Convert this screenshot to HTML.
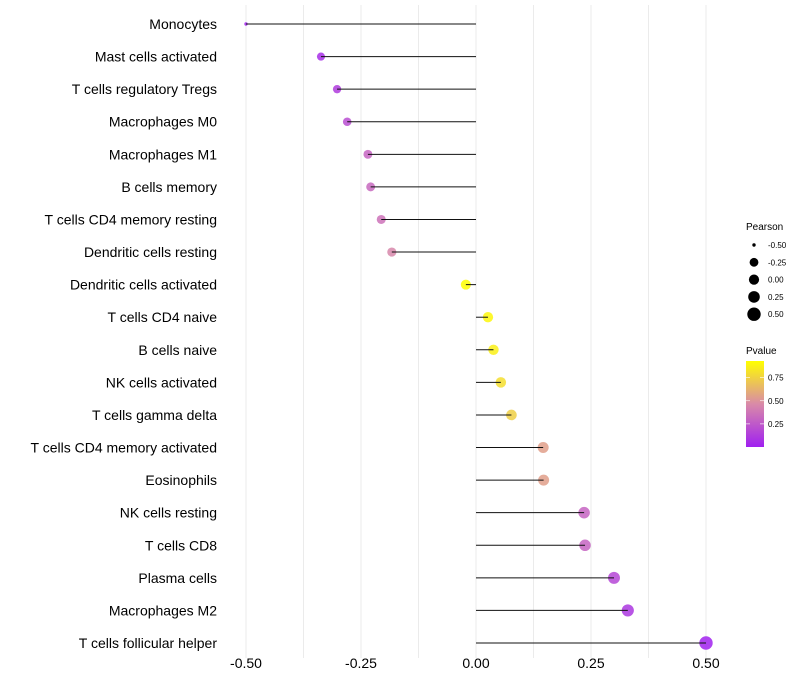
<!DOCTYPE html>
<html><head><meta charset="utf-8"><style>
body{margin:0;background:#fff;font-family:"Liberation Sans",sans-serif}
svg{display:block}
</style></head><body>
<svg id="c" width="800" height="700" xmlns="http://www.w3.org/2000/svg">
<defs><linearGradient id="pg" x1="0" y1="1" x2="0" y2="0">
<stop offset="0" stop-color="#a020f0"/><stop offset="0.5" stop-color="#d98aa8"/><stop offset="1" stop-color="#ffff00"/></linearGradient></defs>
<g id="grid"></g><g id="marks"></g><g id="labels"></g><g id="legend"></g>
</svg>
<script>
const cells = ["Monocytes","Mast cells activated","T cells regulatory  Tregs ","Macrophages M0","Macrophages M1","B cells memory","T cells CD4 memory resting","Dendritic cells resting","Dendritic cells activated","T cells CD4 naive","B cells naive","NK cells activated","T cells gamma delta","T cells CD4 memory activated","Eosinophils","NK cells resting","T cells CD8","Plasma cells","Macrophages M2","T cells follicular helper"];
const pearson = [-0.50,-0.337,-0.302,-0.28,-0.235,-0.229,-0.206,-0.183,-0.022,0.026,0.038,0.054,0.077,0.146,0.147,0.235,0.237,0.30,0.33,0.50];
const pvalue = [0.01,0.06,0.12,0.2,0.3,0.32,0.36,0.45,0.93,0.9,0.87,0.8,0.74,0.55,0.55,0.3,0.3,0.17,0.1,0.01];
const xTicks = [-0.5,-0.25,0,0.25,0.5];
const xTickLabels = ["-0.50","-0.25","0.00","0.25","0.50"];
const sizeBreaks = [-0.5,-0.25,0,0.25,0.5];
const sizeLabels = ["-0.50","-0.25","0.00","0.25","0.50"];
const colorBreaks = [0.25,0.5,0.75];
const colorLabels = ["0.25","0.50","0.75"];

const NS="http://www.w3.org/2000/svg";
const X = v => 476 + v*460;
const Y = i => 24 + i*(643-24)/19;
const rDom=[-0.5,-0.4,-0.25,0,0.25,0.5], rRng=[1.7,3.8,4.4,5.1,5.8,6.7];
function R(v){
  for(let k=0;k<rDom.length-1;k++){ if(v<=rDom[k+1]){const t=(v-rDom[k])/(rDom[k+1]-rDom[k]);return rRng[k]+(rRng[k+1]-rRng[k])*Math.max(0,t);} }
  return rRng[rRng.length-1];
}
function lerp(a,b,t){return a+(b-a)*t}
function col(p){
  const t=Math.max(0,Math.min(1,p/0.93));
  const s=[[160,32,240],[217,138,168],[255,255,0]];
  let a,b,u; if(t<0.5){a=s[0];b=s[1];u=t/0.5}else{a=s[1];b=s[2];u=(t-0.5)/0.5}
  return `rgb(${Math.round(lerp(a[0],b[0],u))},${Math.round(lerp(a[1],b[1],u))},${Math.round(lerp(a[2],b[2],u))})`;
}
function mk(tag,attrs,parent,text){const e=document.createElementNS(NS,tag);for(const k in attrs)e.setAttribute(k,attrs[k]);if(text!=null)e.textContent=text;document.getElementById(parent).appendChild(e);return e}

for(let v=-0.5;v<=0.5001;v+=0.125){
  const g=mk('line',{x1:X(v),x2:X(v),y1:5,y2:658,stroke:'#ebebeb','stroke-width':1},'grid');
  
  
}
xTicks.forEach((v,i)=>{
  const t=mk('text',{x:X(v),y:668,'text-anchor':'middle','font-size':14,fill:'#000'},'labels',xTickLabels[i]);
  
  
});
cells.forEach((c,i)=>{
  const t=mk('text',{x:217,y:Y(i)+5,'text-anchor':'end','font-size':14,fill:'#000'},'labels',c);
  
  
  const p=mk('circle',{cx:X(pearson[i]),cy:Y(i),r:R(pearson[i]),fill:col(pvalue[i]),'fill-opacity':0.85},'marks');
  
  
  const l=mk('line',{x1:X(0),x2:X(pearson[i]),y1:Y(i),y2:Y(i),stroke:'#111','stroke-width':1},'marks');
  
  
});
const lt=mk('text',{x:746,y:230,'font-size':10},'legend','Pearson');


sizeBreaks.forEach((v,i)=>{
  const y=245+i*17.3;
  const c=mk('circle',{cx:754,cy:y,r:R(v),fill:'#000'},'legend');
  
  
  const t=mk('text',{x:768,y:y+3,'font-size':8},'legend',sizeLabels[i]);
  
  
});
const pt=mk('text',{x:746,y:354,'font-size':10},'legend','Pvalue');


const bar=mk('rect',{x:746,y:361,width:18,height:86,fill:'url(#pg)'},'legend');


const CY=p=>447-p/0.93*86;
colorBreaks.forEach((v,i)=>{
  const t=mk('text',{x:768,y:CY(v)+3,'font-size':8},'legend',colorLabels[i]);
  
  
  mk('line',{x1:746,x2:750,y1:CY(v),y2:CY(v),stroke:'#fff','stroke-width':0.6},'legend');
  mk('line',{x1:760,x2:764,y1:CY(v),y2:CY(v),stroke:'#fff','stroke-width':0.6},'legend');
});
</script>
</body></html>
